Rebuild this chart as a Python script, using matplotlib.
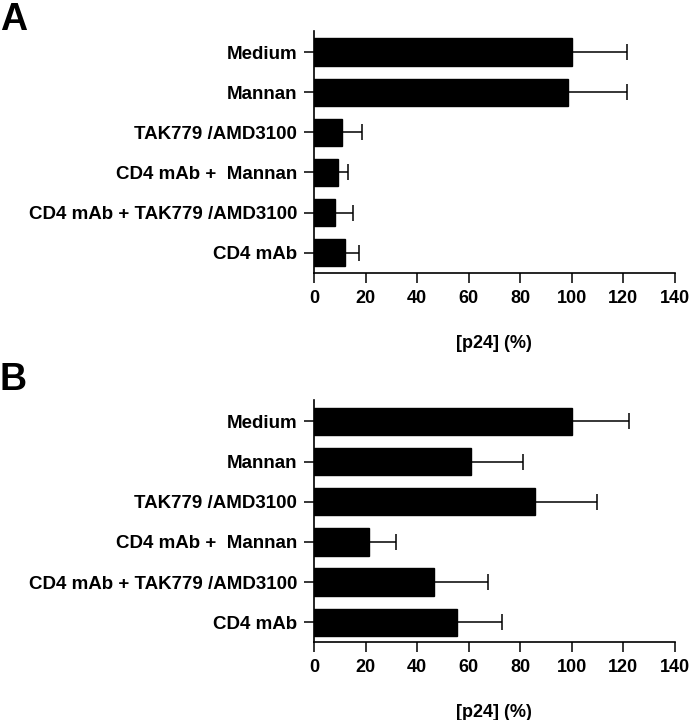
import matplotlib
matplotlib.use("Agg")
import matplotlib.pyplot as plt
import numpy as np

plt.rcParams['font.family'] = ['Liberation Sans', 'DejaVu Sans']
plt.rcParams['font.weight'] = 'bold'

categories = ["Medium", "Mannan", "TAK779 /AMD3100", "CD4 mAb +  Mannan",
              "CD4 mAb + TAK779 /AMD3100", "CD4 mAb"]
values_A = [100.0, 98.6, 11.0, 9.2, 8.3, 11.9]
errors_A = [21.4, 22.8, 7.6, 4.1, 6.9, 5.7]
values_B = [100.0, 60.9, 85.6, 21.3, 46.6, 55.4]
errors_B = [22.4, 20.1, 24.4, 10.5, 21.0, 17.6]
xticks = [0, 20, 40, 60, 80, 100, 120, 140]
panel_labels = ["A", "B"]
xlabel = "[p24] (%)"

fig = plt.figure(figsize=(6.9, 7.2), dpi=100)
positions = [[0.455, 0.621, 0.523, 0.336], [0.455, 0.108, 0.523, 0.336]]
panel_label_pos = [(0.0, 0.997), (0.0, 0.497)]

for i, (vals, errs) in enumerate([(values_A, errors_A), (values_B, errors_B)]):
    ax = fig.add_axes(positions[i])
    y = np.arange(len(categories))
    ax.barh(y, vals, height=0.68, color='black', edgecolor='black', zorder=2)
    ax.errorbar(vals, y, xerr=[np.zeros(len(errs)), errs], fmt='none',
                ecolor='black', elinewidth=1.1, capsize=6, capthick=1.1, zorder=1)
    ax.set_ylim(len(categories) - 0.5, -0.525)
    ax.set_xlim(0, 140)
    ax.set_yticks(y)
    ax.set_yticklabels(categories, fontsize=13.5, fontweight='bold')
    ax.set_xticks(xticks)
    ax.set_xticklabels([str(t) for t in xticks], fontsize=13, fontweight='bold')
    ax.spines['top'].set_visible(False)
    ax.spines['right'].set_visible(False)
    ax.spines['left'].set_linewidth(1.2)
    ax.spines['bottom'].set_linewidth(1.2)
    ax.tick_params(axis='y', length=7.2, width=1.1, pad=5)
    ax.tick_params(axis='x', length=7.2, width=1.1, pad=5)
    ax.set_xlabel(xlabel, fontsize=13, fontweight='bold', labelpad=20)
    fig.text(panel_label_pos[i][0], panel_label_pos[i][1], panel_labels[i],
             fontsize=27, fontweight='bold', va='top', ha='left')

fig.savefig("out.png", dpi=100)
